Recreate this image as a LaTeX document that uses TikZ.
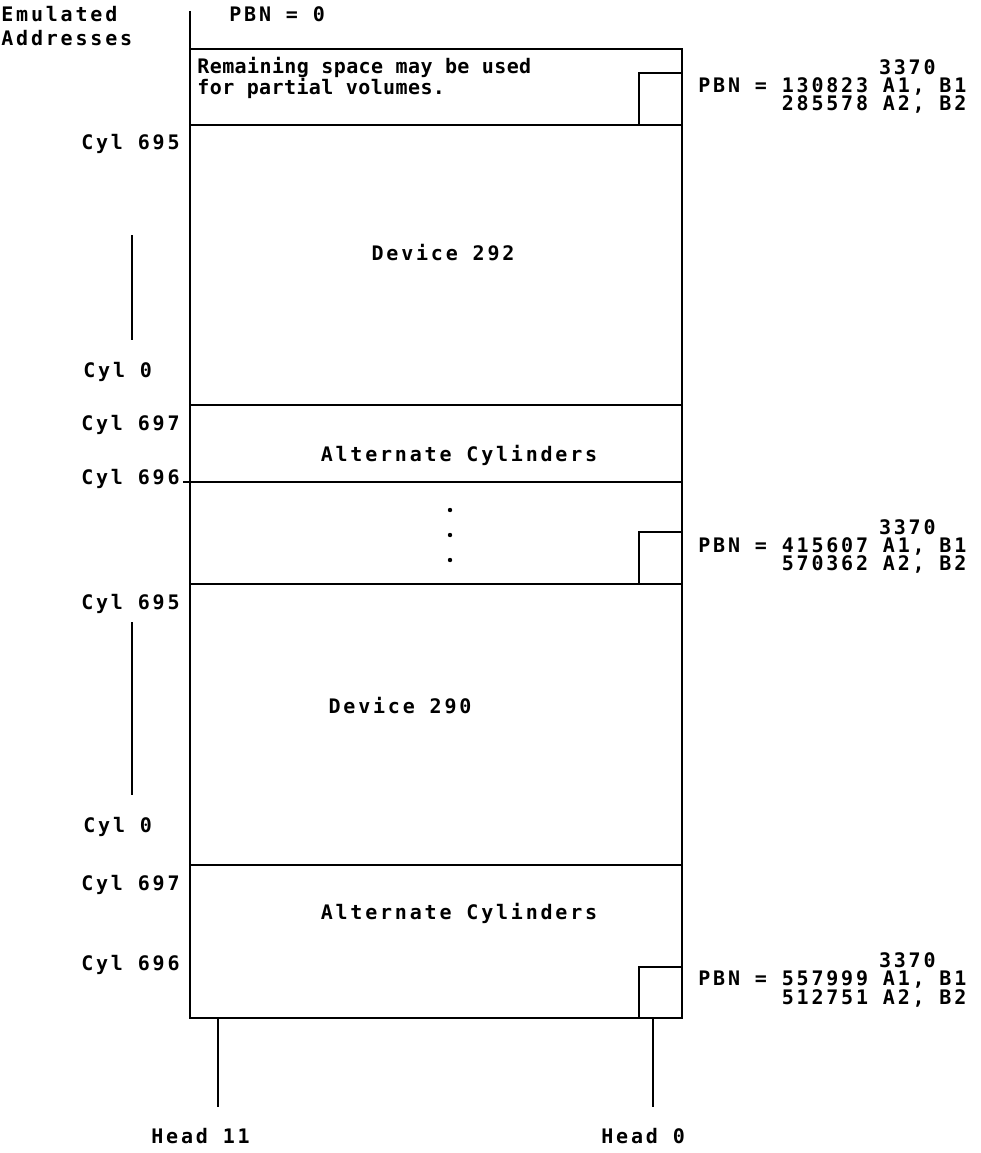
\documentclass[tikz,border=0pt]{standalone}
\usepackage{fontspec}
\newfontfamily\ibmfont{DejaVu Sans Mono}[LetterSpace=14]
\newfontfamily\ibmnarrow{DejaVu Sans Mono}[LetterSpace=2]
\usetikzlibrary{positioning}

\begin{document}
\begin{tikzpicture}[x=1pt, y=-1pt, line width=2.8pt,
    txt/.style={inner sep=0pt, font=\ibmfont\bfseries\fontsize{20}{20}\selectfont},
    lft/.style={txt, anchor=mid west}, rgt/.style={txt, anchor=mid east}]
  \useasboundingbox (0,0) rectangle (980,1153);

  % outer frame
  \coordinate (top) at (190,11);
  \coordinate (tl) at (190,49);
  \coordinate (tr) at (682,49);
  \coordinate (bl) at (190,1018);
  \coordinate (br) at (682,1018);
  \draw (top) -- (bl) -- (br) -- (tr) -- (tl);

  % rows
  \foreach \y in {125,405,584,865}
    \draw (190,\y) -- (682,\y);
  \draw (183,482) -- (682,482);

  % small squares at head 0
  \draw (682,73) -- (639,73) -- (639,125);
  \draw (682,532) -- (639,532) -- (639,584);
  \draw (682,967) -- (639,967) -- (639,1018);

  % heads
  \coordinate (h11) at (218,1107);
  \coordinate (h0) at (653,1107);
  \draw (218,1018) -- (h11);
  \draw (653,1018) -- (h0);
  \node[lft] (head11) at (150,1141) {Head 11};
  \node[lft] (head0) at (600,1141) {Head 0};

  % left side addresses
  \node[lft] (emu) at (0,19) {Emulated};
  \node[lft] (addr) at (0,43) {Addresses};
  \node[lft] (pbn0) at (228,19) {PBN = 0};

  \node[rgt] (c695a) at (181,147) {Cyl 695};
  \draw (132,235) -- (132,340);
  \node[lft] (c0a) at (82,375) {Cyl 0};
  \node[rgt] (c697a) at (181,428) {Cyl 697};
  \node[rgt] (c696a) at (181,482) {Cyl 696};
  \node[rgt] (c695b) at (181,607) {Cyl 695};
  \draw (132,622) -- (132,795);
  \node[lft] (c0b) at (82,830) {Cyl 0};
  \node[rgt] (c697b) at (181,888) {Cyl 697};
  \node[rgt] (c696b) at (181,968) {Cyl 696};

  % box contents
  \node[lft, font=\ibmnarrow\bfseries\fontsize{20}{20}\selectfont] (rem1) at (196,71) {Remaining space may be used};
  \node[lft, font=\ibmnarrow\bfseries\fontsize{20}{20}\selectfont] (rem2) at (196,92) {for partial volumes.};
  \node[txt] (dev292) at (443,253) {Device 292};
  \node[txt] (alt1) at (459,455) {Alternate Cylinders};
  \foreach \y in {510,535,560}
    \fill (450,\y) circle (2.2);
  \node[txt] (dev290) at (400,706) {Device 290};
  \node[txt] (alt2) at (459,913) {Alternate Cylinders};

  % physical block numbers
  \node[rgt] (m1) at (937,72) {3370};
  \node[lft] (p1) at (697,90) {PBN = 130823 A1, B1};
  \node[rgt] (q1) at (p1.mid east |- 0,108) {285578 A2, B2};
  \node[rgt] (m2) at (937,532) {3370};
  \node[lft] (p2) at (697,550) {PBN = 415607 A1, B1};
  \node[rgt] (q2) at (p2.mid east |- 0,568) {570362 A2, B2};
  \node[rgt] (m3) at (937,965) {3370};
  \node[lft] (p3) at (697,983) {PBN = 557999 A1, B1};
  \node[rgt] (q3) at (p3.mid east |- 0,1002) {512751 A2, B2};
\end{tikzpicture}
\end{document}
